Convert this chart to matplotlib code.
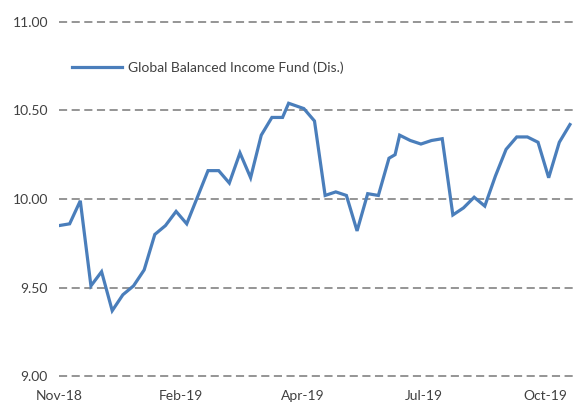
import matplotlib
matplotlib.use("Agg")
import matplotlib.pyplot as plt
import matplotlib.dates as mdates
import pandas as pd

# ---- data ----
dates = [
    "2018-11-16", "2018-11-23", "2018-11-30", "2018-12-07", "2018-12-14",
    "2018-12-21", "2018-12-28", "2019-01-04", "2019-01-11", "2019-01-18",
    "2019-01-25", "2019-02-01", "2019-02-08", "2019-02-15", "2019-02-22",
    "2019-03-01", "2019-03-08", "2019-03-15", "2019-03-22", "2019-03-29",
    "2019-04-05", "2019-04-12", "2019-04-16", "2019-04-26", "2019-05-03",
    "2019-05-10", "2019-05-17", "2019-05-24", "2019-05-31", "2019-06-07",
    "2019-06-14", "2019-06-21", "2019-06-25", "2019-06-28", "2019-07-05",
    "2019-07-12", "2019-07-19", "2019-07-26", "2019-08-02", "2019-08-09",
    "2019-08-16", "2019-08-23", "2019-08-30", "2019-09-06", "2019-09-13",
    "2019-09-20", "2019-09-27", "2019-10-04", "2019-10-11", "2019-10-18",
]
nav = [
    9.85, 9.86, 9.99, 9.51, 9.59,
    9.37, 9.46, 9.51, 9.60, 9.80,
    9.85, 9.93, 9.86, 10.01, 10.16,
    10.16, 10.09, 10.26, 10.12, 10.36,
    10.46, 10.46, 10.54, 10.51, 10.44,
    10.02, 10.04, 10.02, 9.82, 10.03,
    10.02, 10.23, 10.25, 10.36, 10.33,
    10.31, 10.33, 10.34, 9.91, 9.95,
    10.01, 9.96, 10.13, 10.28, 10.35,
    10.35, 10.32, 10.12, 10.32, 10.42,
]
series_name = "Global Balanced Income Fund (Dis.)"
tick_dates = ["2018-11-16", "2019-02-04", "2019-04-25", "2019-07-14", "2019-10-02"]
tick_labels = ["Nov-18", "Feb-19", "Apr-19", "Jul-19", "Oct-19"]
y_ticks = [9.00, 9.50, 10.00, 10.50, 11.00]
x_range = ["2018-11-16", "2019-10-20"]

# ---- plot ----
plt.rcParams["font.family"] = ["Lato", "DejaVu Sans"]
fig = plt.figure(figsize=(5.73, 4.03), dpi=100)
ax = fig.add_axes([59 / 573, 1 - 376.3 / 403, 1 - 59 / 573, (376.3 - 21.7) / 403])

x = pd.to_datetime(dates)
ax.plot(x, nav, color="#4A7EBB", lw=2.3, label=series_name, solid_joinstyle="miter", zorder=3)

ax.set_ylim(9.0, 11.0)
ax.set_xlim(pd.to_datetime(x_range[0]), pd.to_datetime(x_range[1]))
ax.set_yticks(y_ticks)
ax.set_yticklabels([f"{v:.2f}" for v in y_ticks])
ax.set_xticks(pd.to_datetime(tick_dates))
ax.set_xticklabels(tick_labels)

for v in y_ticks:
    ax.axhline(v, color="#8C8C8C", lw=1.3, ls=(0, (4.5, 2.5)), zorder=1, clip_on=False)

for s in ax.spines.values():
    s.set_visible(False)
ax.tick_params(axis="both", length=0, labelsize=10, colors="#404040")
ax.tick_params(axis="y", pad=8)
ax.tick_params(axis="x", pad=10)

leg = ax.legend(loc="upper left", bbox_to_anchor=(0.0, 0.923), frameon=False,
                handlelength=3.6, handletextpad=0.45, fontsize=10, labelcolor="#404040")

fig.savefig("out.png", dpi=100)
